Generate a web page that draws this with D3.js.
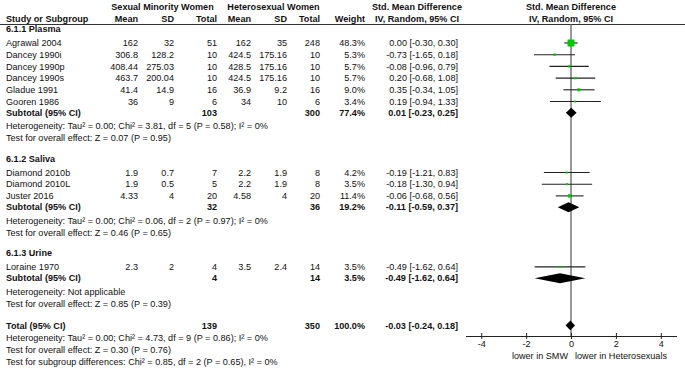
<!DOCTYPE html>
<html>
<head>
<meta charset="utf-8">
<script src="https://cdn.jsdelivr.net/npm/d3@7"></script>
<style>
body { margin: 0; background: #fff; }
svg text { font-family: "Liberation Sans", Arial, sans-serif; font-size: 9.1px; fill: #111; }
svg text.b { font-weight: bold; }
</style>
</head>
<body>
<div id="chart"></div>
<script>
// study level data
const groups = ["6.1.1 Plasma", "6.1.2 Saliva", "6.1.3 Urine"];
const studyNames = ["Agrawal 2004", "Dancey 1990i", "Dancey 1990p", "Dancey 1990s", "Gladue 1991", "Gooren 1986",
                    "Diamond 2010b", "Diamond 2010L", "Juster 2016", "Loraine 1970"];
const studyGroup = [0, 0, 0, 0, 0, 0, 1, 1, 1, 2];
const smwMean = ["162", "306.8", "408.44", "463.7", "41.4", "36", "1.9", "1.9", "4.33", "2.3"];
const smwSD   = ["32", "128.2", "275.03", "200.04", "14.9", "9", "0.7", "0.5", "4", "2"];
const smwN    = [51, 10, 10, 10, 16, 6, 7, 5, 20, 4];
const hetMean = ["162", "424.5", "428.5", "424.5", "36.9", "34", "2.2", "2.2", "4.58", "3.5"];
const hetSD   = ["35", "175.16", "175.16", "175.16", "9.2", "10", "1.9", "1.9", "4", "2.4"];
const hetN    = [248, 10, 10, 10, 16, 6, 8, 8, 20, 14];
const weights = [48.3, 5.3, 5.7, 5.7, 9.0, 3.4, 4.2, 3.5, 11.4, 3.5];
const smd     = [0.00, -0.73, -0.08, 0.20, 0.35, 0.19, -0.19, -0.18, -0.06, -0.49];
const ciLow   = [-0.30, -1.65, -0.96, -0.68, -0.34, -0.94, -1.21, -1.30, -0.68, -1.62];
const ciHigh  = [0.30, 0.18, 0.79, 1.08, 1.05, 1.33, 0.83, 0.94, 0.56, 0.64];

// subgroup totals
const subN1 = [103, 32, 4];
const subN2 = [300, 36, 14];
const subWeight = [77.4, 19.2, 3.5];
const subSmd  = [0.01, -0.11, -0.49];
const subLow  = [-0.23, -0.59, -1.62];
const subHigh = [0.25, 0.37, 0.64];
const subHet = [
  "Heterogeneity: Tau² = 0.00; Chi² = 3.81, df = 5 (P = 0.58); I² = 0%",
  "Heterogeneity: Tau² = 0.00; Chi² = 0.06, df = 2 (P = 0.97); I² = 0%",
  "Heterogeneity: Not applicable"
];
const subTest = [
  "Test for overall effect: Z = 0.07 (P = 0.95)",
  "Test for overall effect: Z = 0.46 (P = 0.65)",
  "Test for overall effect: Z = 0.85 (P = 0.39)"
];

// overall
const totalN = [139, 350];
const totalWeight = 100.0;
const totalSmd = [-0.03, -0.24, 0.18];
const totalNotes = [
  "Heterogeneity: Tau² = 0.00; Chi² = 4.73, df = 9 (P = 0.86); I² = 0%",
  "Test for overall effect: Z = 0.30 (P = 0.76)",
  "Test for subgroup differences: Chi² = 0.85, df = 2 (P = 0.65), I² = 0%"
];

const axisTicks = [-4, -2, 0, 2, 4];
const favourLabels = ["lower in SMW", "lower in Heterosexuals"];

// set svg
const width = 685, height = 368;
const svg = d3.select("#chart")
  .append("svg")
    .attr("width", width)
    .attr("height", height);

const fmt = v => v.toFixed(2);
const ciText = (m, l, h) => `${fmt(m)} [${fmt(l)}, ${fmt(h)}]`;
const pct = v => v.toFixed(1) + "%";

// column positions (right edges unless noted)
const col = { name: 6, m1: 138, sd1: 174, n1: 217, m2: 251, sd2: 287, n2: 320, w: 365, ci: 458, ciMid: 417, plotMid: 571 };

// build row list
const rows = [];
groups.forEach((g, gi) => {
  rows.push({ type: "group", gi });
  studyNames.forEach((s, i) => { if (studyGroup[i] === gi) rows.push({ type: "study", i }); });
  rows.push({ type: "subtotal", gi });
  rows.push({ type: "het", gi });
  rows.push({ type: "test", gi });
});
rows.push({ type: "total" });
totalNotes.forEach((t, k) => rows.push({ type: "note", k }));

// vertical spacing
const gap = (prev, cur) => {
  if (!prev) return 29;
  if (cur.type === "group") return 20.5;
  if (cur.type === "total") return 22;
  if (prev.type === "group") return 14;
  if (cur.type === "study") return 11.7;
  if (cur.type === "subtotal") return 11.3;
  if (cur.type === "het") return 13.3;
  if (prev.type === "total") return 12.5;
  return 11.9;
};
let yy = 0;
rows.forEach((r, k) => { yy += gap(rows[k - 1], r); r.y = yy; });

// forest x scale
const x = d3.scaleLinear().domain([-4.7, 4.7]).range([465.5, 676.5]);
const sq = d3.scaleSqrt().domain([0, 100]).range([0, 10]);
const axisY = 336;

function txt(xp, y, s, anchor, bold) {
  svg.append("text")
    .attr("x", xp).attr("y", y).attr("dy", "0.35em")
    .attr("text-anchor", anchor || "end")
    .attr("class", bold ? "b" : null)
    .text(s);
}

// header
txt((col.m1 - 30 + col.n1) / 2, 7, "Sexual Minority Women", "middle", true);
txt((col.m2 - 24 + col.n2) / 2, 7, "Heterosexual Women", "middle", true);
txt(col.ciMid, 7, "Std. Mean Difference", "middle", true);
txt(col.plotMid, 7, "Std. Mean Difference", "middle", true);
txt(col.name, 19, "Study or Subgroup", "start", true);
[["m1", "Mean"], ["sd1", "SD"], ["n1", "Total"], ["m2", "Mean"], ["sd2", "SD"], ["n2", "Total"], ["w", "Weight"]]
  .forEach(([k, s]) => txt(col[k], 19, s, "end", true));
txt(col.ciMid, 19, "IV, Random, 95% CI", "middle", true);
txt(col.plotMid, 19, "IV, Random, 95% CI", "middle", true);

svg.append("line")
  .attr("x1", 0).attr("x2", width).attr("y1", 24.5).attr("y2", 24.5)
  .attr("stroke", "#333").attr("stroke-width", 1);

// zero line
svg.append("line")
  .attr("x1", x(0)).attr("x2", x(0)).attr("y1", 24.5).attr("y2", axisY)
  .attr("stroke", "#777").attr("stroke-width", 1.5);

const diamond = (y, m, l, h, hh) =>
  `M${x(l)},${y}L${x(m)},${y - hh}L${x(h)},${y}L${x(m)},${y + hh}Z`;

const marks = svg.append("g");

rows.forEach(r => {
  const y = r.y;
  if (r.type === "group") {
    txt(col.name, y, groups[r.gi], "start", true);
  } else if (r.type === "study") {
    const i = r.i;
    txt(col.name, y, studyNames[i], "start");
    txt(col.m1, y, smwMean[i]);
    txt(col.sd1, y, smwSD[i]);
    txt(col.n1, y, smwN[i]);
    txt(col.m2, y, hetMean[i]);
    txt(col.sd2, y, hetSD[i]);
    txt(col.n2, y, hetN[i]);
    txt(col.w, y, pct(weights[i]));
    txt(col.ci, y, ciText(smd[i], ciLow[i], ciHigh[i]));
    marks.append("line")
      .attr("x1", x(ciLow[i])).attr("x2", x(ciHigh[i]))
      .attr("y1", y).attr("y2", y)
      .attr("stroke", "#222").attr("stroke-width", 1.1);
    const s = Math.max(sq(weights[i]), 2);
    marks.append("rect")
      .attr("x", x(smd[i]) - s / 2).attr("y", y - s / 2)
      .attr("width", s).attr("height", s)
      .attr("fill", "#00c800");
  } else if (r.type === "subtotal") {
    const g = r.gi;
    txt(col.name, y, "Subtotal (95% CI)", "start", true);
    txt(col.n1, y, subN1[g], "end", true);
    txt(col.n2, y, subN2[g], "end", true);
    txt(col.w, y, pct(subWeight[g]), "end", true);
    txt(col.ci, y, ciText(subSmd[g], subLow[g], subHigh[g]), "end", true);
    marks.append("path")
      .attr("d", diamond(y, subSmd[g], subLow[g], subHigh[g], 5))
      .attr("fill", "#000");
  } else if (r.type === "het") {
    txt(col.name, y, subHet[r.gi], "start");
  } else if (r.type === "test") {
    txt(col.name, y, subTest[r.gi], "start");
  } else if (r.type === "total") {
    txt(col.name, y, "Total (95% CI)", "start", true);
    txt(col.n1, y, totalN[0], "end", true);
    txt(col.n2, y, totalN[1], "end", true);
    txt(col.w, y, pct(totalWeight), "end", true);
    txt(col.ci, y, ciText(totalSmd[0], totalSmd[1], totalSmd[2]), "end", true);
    marks.append("path")
      .attr("d", diamond(y, totalSmd[0], totalSmd[1], totalSmd[2], 4.8))
      .attr("fill", "#000");
  } else if (r.type === "note") {
    txt(col.name, y, totalNotes[r.k], "start");
  }
});

// axis
const axis = svg.append("g")
  .attr("transform", `translate(0,${axisY})`)
  .call(d3.axisBottom(x).tickValues(axisTicks).tickSizeOuter(0).tickSizeInner(3).tickPadding(2)
    .tickFormat(d => String(d)));
axis.select(".domain").attr("stroke", "#222");
axis.selectAll(".tick line").attr("y1", -3).attr("y2", 3).attr("stroke", "#222");
axis.selectAll(".tick text")
  .style("font-family", "'Liberation Sans', Arial, sans-serif")
  .style("font-size", "9.1px").attr("fill", "#111");

txt(x(0) - 3, 356, favourLabels[0], "end");
txt(x(0) + 4, 356, favourLabels[1], "start");
</script>
</body>
</html>
